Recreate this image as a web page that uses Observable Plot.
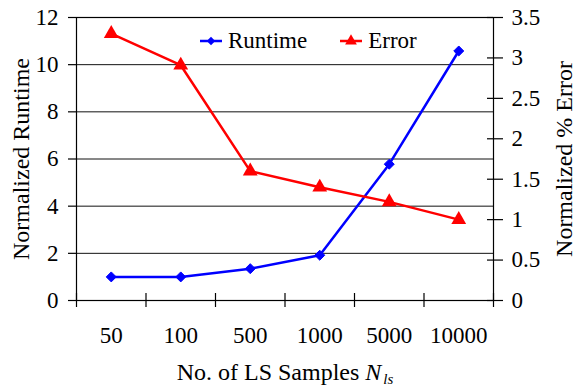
<!DOCTYPE html>
<html>
<head>
<meta charset="utf-8">
<script src="https://cdn.jsdelivr.net/npm/d3@7"></script>
<script src="https://cdn.jsdelivr.net/npm/@observablehq/plot@0.6"></script>
</head>
<body style="margin:0;padding:0;background:#fff">
<div id="wrap" style="position:relative;width:577px;height:388px;font-family:'Liberation Serif'"><div id="legend" style="position:absolute;left:200px;top:28px;display:flex;align-items:center;font-size:23px;color:#000;white-space:nowrap;font-family:'Liberation Serif'"></div></div>
<script>
// ---- data ----
const categories = ["50", "100", "500", "1000", "5000", "10000"];
const runtime = [1.0, 1.0, 1.35, 1.92, 5.78, 10.58];
const error = [3.30, 2.91, 1.60, 1.40, 1.22, 1.00];
const leftTicks = [0, 2, 4, 6, 8, 10, 12];
const rightTicks = [0, 0.5, 1, 1.5, 2, 2.5, 3, 3.5];
const gridValues = [2, 4, 6, 8, 10];
const leftMax = 12, rightMax = 3.5;
const seriesNames = ["Runtime", "Error"];
const seriesColors = ["#0000ff", "#ff0000"];

// ---- layout ----
const W = 577, H = 388;
const mL = 76, mR = 84, mT = 17, mB = 88;
const plotW = W - mL - mR, plotH = H - mT - mB;
const k = leftMax / rightMax; // map right-axis values onto left scale

const rows = categories.map((c, i) => ({cat: c, pos: i + 0.5, runtime: runtime[i], err: error[i] * k}));
const bounds = d3.range(categories.length + 1);
const centers = categories.map((c, i) => i + 0.5);
const font = "Liberation Serif";

const chart = Plot.plot({
  width: W, height: H,
  marginLeft: mL, marginRight: mR, marginTop: mT, marginBottom: mB,
  style: {fontFamily: font, fontSize: "23px", color: "#000", background: "#fff"},
  x: {type: "linear", domain: [0, categories.length]},
  y: {type: "linear", domain: [0, leftMax]},
  marks: [
    Plot.ruleY(gridValues, {stroke: "#111", strokeWidth: 1}),
    Plot.frame({stroke: "#000", strokeWidth: 1.2}),
    // left axis
    Plot.axisY({ticks: leftTicks, tickSize: 8, tickPadding: 10, label: null, fontSize: 23, stroke: "#000", strokeWidth: 1.2}),
    // right axis
    Plot.axisY({anchor: "right", ticks: rightTicks.map(t => t * k), tickSize: 9, tickPadding: 9, label: null,
      tickFormat: d => d3.format("~g")(+(d / k).toFixed(2)), fontSize: 23, stroke: "#000", strokeWidth: 1.2}),
    Plot.tickY(rightTicks.map(t => t * k), {y: d => d, insetLeft: plotW - 6, stroke: "#000", strokeWidth: 1.2}),
    // bottom ticks at category boundaries (crossing the axis)
    Plot.axisX({ticks: bounds, tickSize: 7, tickFormat: () => "", label: null, stroke: "#000", strokeWidth: 1.2}),
    Plot.tickX(bounds, {x: d => d, insetTop: plotH - 7, stroke: "#000", strokeWidth: 1.2}),
    // category labels centred in each slot
    Plot.axisX({ticks: centers, tickSize: 0, tickPadding: 26, label: null, fontSize: 23,
      tickFormat: d => categories[Math.round(d - 0.5)]}),
    // axis titles
    Plot.text(["Normalized Runtime"], {frameAnchor: "left", dx: -55, rotate: -90, textAnchor: "middle", fontSize: 24, fill: "#000", lineAnchor: "middle"}),
    Plot.text(["Normalized % Error"], {frameAnchor: "right", dx: 71, rotate: -90, textAnchor: "middle", fontSize: 24, fill: "#000", lineAnchor: "middle"}),
    Plot.text(["No. of LS Samples"], {frameAnchor: "bottom", dy: 72, textAnchor: "middle", fontSize: 24, fill: "#000", lineAnchor: "middle", className: "xtitle"}),
    // series
    Plot.line(rows, {x: "pos", y: "runtime", stroke: seriesColors[0], strokeWidth: 2.5}),
    Plot.dot(rows, {x: "pos", y: "runtime", symbol: "diamond2", fill: seriesColors[0], stroke: seriesColors[0], strokeWidth: 1, r: 4.5}),
    Plot.line(rows, {x: "pos", y: "err", stroke: seriesColors[1], strokeWidth: 2.5}),
    Plot.dot(rows, {x: "pos", y: "err", symbol: "triangle", fill: seriesColors[1], r: 5.5})
  ]
});

document.getElementById("wrap").prepend(chart);

// rich x-axis title: italic N with subscript "ls"
const t = d3.select(chart).select("g.xtitle text");
if (!t.empty()) {
  t.text(null);
  t.append("tspan").text("No. of LS Samples ");
  t.append("tspan").attr("font-style", "italic").text("N");
  t.append("tspan").attr("font-style", "italic").attr("font-size", "15px").attr("dx", "2").attr("dy", "4").text("ls");
}

// force the serif face on every SVG text
chart.querySelectorAll("g, text, tspan").forEach(el => {
  el.setAttribute("font-family", "Liberation Serif");
});

// legend (inside plot area, as in the reference)
const legend = d3.select("#legend");
seriesNames.forEach((name, i) => {
  const item = legend.append("div").style("display", "flex").style("align-items", "center")
    .style("margin-right", i === 0 ? "33px" : "0");
  const s = item.append("svg").attr("width", 22).attr("height", 14).style("display", "block").style("margin-right", "6px");
  s.append("line").attr("x1", 0).attr("x2", 22).attr("y1", 7).attr("y2", 7)
    .attr("stroke", seriesColors[i]).attr("stroke-width", 2.5);
  const sym = i === 0 ? d3.symbolDiamond2 : d3.symbolTriangle;
  s.append("path").attr("transform", "translate(11,7)")
    .attr("d", d3.symbol(sym, i === 0 ? 45 : 60)()).attr("fill", seriesColors[i]);
  item.append("span").style("font-family", "'Liberation Serif'").text(name);
});
</script>
</body>
</html>
